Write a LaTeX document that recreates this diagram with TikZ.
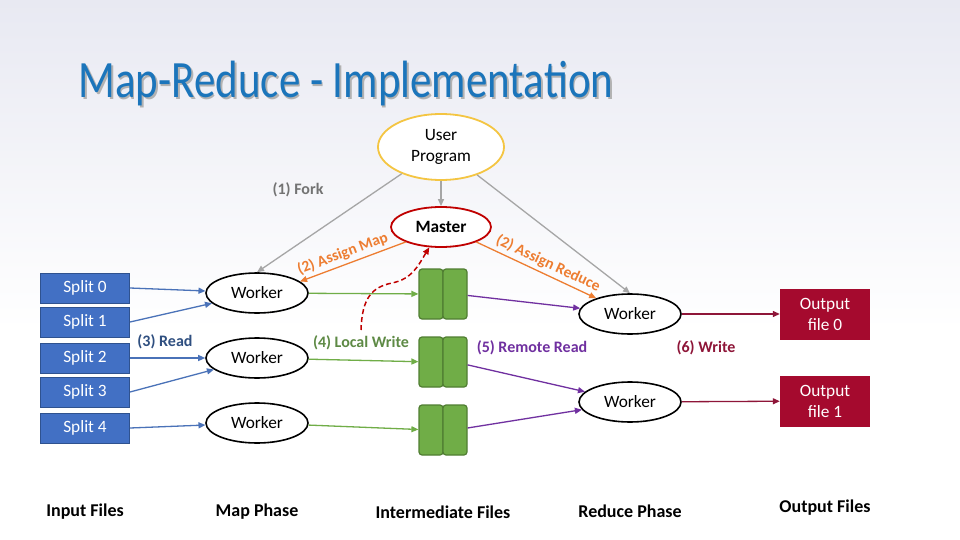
\documentclass[tikz,border=0pt]{standalone}
\usepackage{fontspec}
\setmainfont{Carlito}
\usetikzlibrary{arrows.meta,positioning,shapes.geometric}
\definecolor{bgtop}{HTML}{E8E9F2}
\definecolor{titleblue}{HTML}{1B75BB}
\definecolor{splitblue}{HTML}{4270C4}
\definecolor{splitedge}{HTML}{2F528F}
\definecolor{readblue}{HTML}{4A72B8}
\definecolor{readtext}{HTML}{2F4F80}
\definecolor{filegreen}{HTML}{70AD47}
\definecolor{fileedge}{HTML}{507E32}
\definecolor{writegreen}{HTML}{5E8A45}
\definecolor{remote}{HTML}{7030A0}
\definecolor{outred}{HTML}{A50A2E}
\definecolor{writered}{HTML}{8E1538}
\definecolor{assign}{HTML}{ED7D31}
\definecolor{forkgray}{HTML}{A6A6A6}
\definecolor{forktext}{HTML}{737373}
\definecolor{useryellow}{HTML}{F4C542}
\definecolor{masterred}{HTML}{C00000}

\begin{document}
\begin{tikzpicture}[x=1pt,y=-1pt,>={Triangle[length=7pt,width=6pt]},
  every node/.style={font=\fontsize{17.3}{21}\selectfont},
  worker/.style={ellipse,draw=black,line width=1.6pt,fill=white,minimum width=102pt,minimum height=40pt,inner sep=0pt},
  split/.style={rectangle,draw=splitedge,line width=1pt,fill=splitblue,text=white,minimum width=89pt,minimum height=30pt,inner sep=0pt},
  outfile/.style={rectangle,fill=outred,text=white,minimum width=90pt,minimum height=51pt,inner sep=0pt,align=center},
  interfile/.style={rectangle,rounded corners=3pt,draw=fileedge,line width=1.2pt,fill=filegreen,minimum width=24pt,minimum height=50pt},
  steplabel/.style={font=\fontsize{16}{18}\selectfont\bfseries},
  phase/.style={font=\fontsize{18}{20}\selectfont\bfseries},
  link/.style={->,line width=1.3pt}]
\useasboundingbox (0,0) rectangle (960,540);
\fill[white] (0,0) rectangle (960,540);
\shade[top color=bgtop,bottom color=white] (0,0) rectangle (960,330);

% title
\node[anchor=base west,text=black!30,font=\fontsize{43}{48}\selectfont] (titleshadow) at (76.5,99.5) {\scalebox{1}[1.22]{Map-Reduce - Implementation}};
\node[anchor=base west,text=titleblue,font=\fontsize{43}{48}\selectfont] (title) at (75,98) {\scalebox{1}[1.22]{Map-Reduce - Implementation}};

% user program and master
\node[ellipse,draw=useryellow,line width=1.8pt,fill=white,minimum width=126pt,minimum height=66pt,inner sep=0pt,align=center] (user) at (441,147) {User\\Program};
\node[ellipse,draw=masterred,line width=1.8pt,fill=white,minimum width=100pt,minimum height=40pt,inner sep=0pt,font=\fontsize{17.3}{20}\selectfont\bfseries] (master) at (441,227) {Master};

% input splits
\foreach \i/\y in {0/288,1/322,2/358,3/392,4/428}
  \node[split] (s\i) at (85,\y) {Split \i};

% map workers
\node[worker] (mw1) at (257,293) {Worker};
\node[worker] (mw2) at (257,358) {Worker};
\node[worker] (mw3) at (257,423) {Worker};

% intermediate files
\foreach \i/\y in {1/294,2/362,3/430} {
  \node[interfile] (fa\i) at (431,\y) {};
  \node[interfile] (fb\i) at (455,\y) {};
}

% reduce workers and output
\node[worker] (rw1) at (630,314) {Worker};
\node[worker] (rw2) at (630,402) {Worker};
\node[outfile] (out0) at (825,314) {Output\\file 0};
\node[outfile] (out1) at (825,401) {Output\\file 1};

% step labels
\node[steplabel,text=forktext] (fork) at (298,190) {(1) Fork};
\node[steplabel,text=readtext] (read) at (165,342) {(3) Read};
\node[steplabel,text=writegreen] (localwrite) at (361,343) {(4) Local Write};
\node[steplabel,text=remote] (remoteread) at (532,348) {(5) Remote Read};
\node[steplabel,text=writered] (write) at (706,348) {(6) Write};

% phases
\node[phase] (pinput) at (85,512) {Input Files};
\node[phase] (pmap) at (257,512) {Map Phase};
\node[phase] (pinter) at (443,512) {Intermediate Files};
\node[phase] (preduce) at (630,511) {Reduce Phase};
\node[phase] (poutput) at (825,508) {Output Files};

% fork
\draw[link,forkgray] (user) -- (mw1.north);
\draw[link,forkgray] (user) -- (master);
\draw[link,forkgray] (user) -- (rw1.north);

% assign
\draw[link,assign] (master.203) -- node[pos=0.56,sloped,above=0pt,steplabel,font=\fontsize{15.5}{18}\selectfont\bfseries,text=assign] (amap) {(2) Assign Map} (mw1.15);
\draw[link,assign] (master.337) -- node[pos=0.56,sloped,above=0pt,steplabel,font=\fontsize{15.5}{18}\selectfont\bfseries,text=assign] (areduce) {(2) Assign Reduce} (rw1.155);

% report back to master
\coordinate (lwstart) at (361,330);
\draw[->,masterred,dashed,dash pattern=on 5pt off 3pt,line width=1.5pt] (lwstart) .. controls (362,298) and (372,287) .. (392,283) .. controls (412,279) and (418,266) .. (master.240);

% read, write, remote read, write
\foreach \s/\w in {s0/mw1,s1/mw1,s2/mw2,s3/mw2,s4/mw3}
  \draw[link,readblue] (\s.east) -- (\w);
\foreach \w/\f in {mw1/fa1,mw2/fa2,mw3/fa3}
  \draw[link,filegreen] (\w) -- (\f);
\foreach \f/\w in {fb1/rw1,fb2/rw2,fb3/rw2}
  \draw[link,remote] (\f) -- (\w);
\draw[link,writered] (rw1) -- (out0);
\draw[link,writered] (rw2) -- (out1);
\end{tikzpicture}
\end{document}
